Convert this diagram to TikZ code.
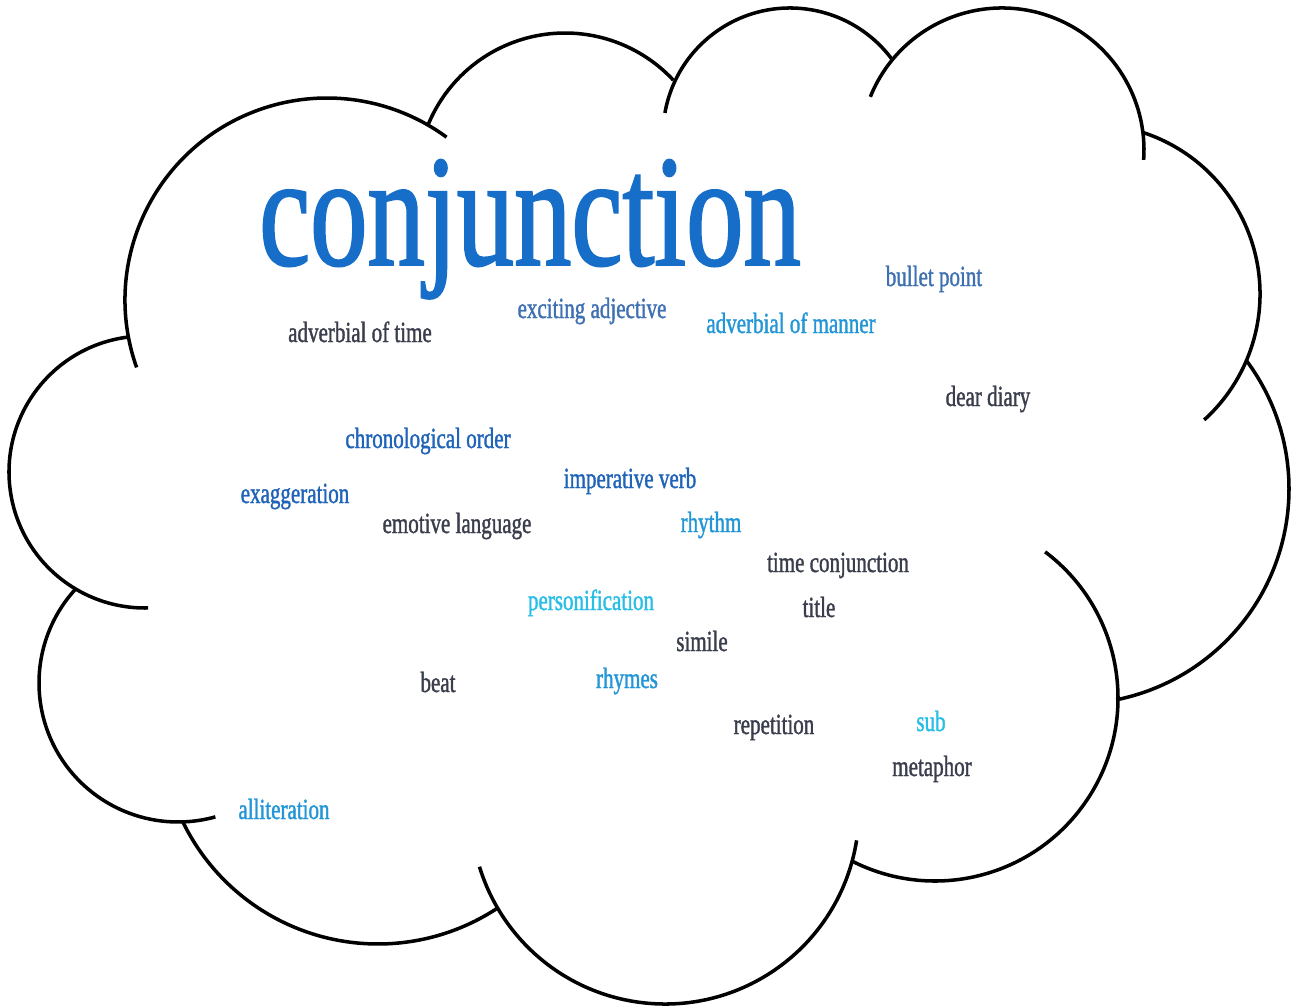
\documentclass[tikz,border=0pt]{standalone}
\usepackage{fontspec}
\newfontfamily\cloudfont{Liberation Serif}[FakeStretch=0.72,FakeBold=1.2]
\usetikzlibrary{positioning}

\definecolor{maincol}{RGB}{22,110,200}
\definecolor{wdark}{RGB}{58,62,76}
\definecolor{wsteel}{RGB}{62,112,178}
\definecolor{wblue}{RGB}{32,100,185}
\definecolor{wsky}{RGB}{35,150,215}
\definecolor{wcyan}{RGB}{40,190,230}

\begin{document}
\begin{tikzpicture}[x=0.01cm,y=0.01cm,
  cloudline/.style={line width=1pt},
  word/.style={anchor=base,inner sep=0pt,font=\cloudfont\fontsize{8.3}{10}\selectfont}]
\fill[white] (0,0) rectangle (1299,-1006);
\useasboundingbox (0,0) rectangle (1299,-1006);
% cloud outline, one arc per bump: centre x/y, radius, start, end
\foreach \cx/\cy/\r/\a/\b in {327/300/202/199.5/53.7, 565/181/148/157.3/43,
  790/135/127/170/35.9, 1002/150/142/158/-4, 1090/294/170/71.8/-47.8,
  1074/489/215/36.9/-78.7, 935/698/183/53/-117, 665/810/194/-9/-163,
  378/727/217/205.6/303.6, 178/683/139/137.8/285.6, 145/472/136/97.6/271.3}
  \draw[cloudline] (\cx,-\cy) ++(\a:\r) arc[start angle=\a,end angle=\b,radius=\r];
% words
\node[word,font=\cloudfont\fontsize{45.3}{50}\selectfont,text=maincol] (conj) at (530,-265) {conjunction};
\node[word,text=wdark] (advtime) at (360,-342) {adverbial of time};
\node[word,text=wsteel] (excadj) at (592,-318) {exciting adjective};
\node[word,text=wsky] (advmanner) at (791,-333) {adverbial of manner};
\node[word,text=wsteel] (bullet) at (934,-286) {bullet point};
\node[word,text=wdark] (diary) at (988,-406) {dear diary};
\node[word,text=wblue] (chrono) at (428,-448) {chronological order};
\node[word,text=wblue] (imper) at (630,-488) {imperative verb};
\node[word,text=wblue] (exagg) at (295,-503) {exaggeration};
\node[word,text=wdark] (emotive) at (457,-533) {emotive language};
\node[word,text=wsky] (rhythm) at (711,-532) {rhythm};
\node[word,text=wdark] (timeconj) at (838,-572) {time conjunction};
\node[word,text=wcyan] (personif) at (591,-610) {personification};
\node[word,text=wdark] (title) at (819,-617) {title};
\node[word,text=wdark] (simile) at (702,-651) {simile};
\node[word,text=wdark] (beat) at (438,-692) {beat};
\node[word,text=wsky] (rhymes) at (627,-688) {rhymes};
\node[word,text=wdark] (repet) at (774,-734) {repetition};
\node[word,text=wcyan] (sub) at (931,-731) {sub};
\node[word,text=wdark] (metaphor) at (932,-776) {metaphor};
\node[word,text=wsky] (allit) at (284,-819) {alliteration};
\end{tikzpicture}
\end{document}
